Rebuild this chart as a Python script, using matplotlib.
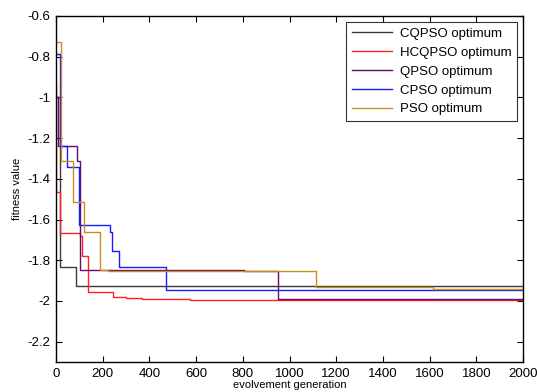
import matplotlib
matplotlib.use("Agg")
import matplotlib.pyplot as plt

plt.rcParams['font.family'] = ['Liberation Sans', 'DejaVu Sans']

series_names = ["CQPSO optimum", "HCQPSO optimum", "QPSO optimum", "CPSO optimum", "PSO optimum"]

cqpso_gen = [0, 15, 86, 2000]
cqpso_val = [-1.00, -1.835, -1.925, -1.925]

hcqpso_gen = [0, 2, 17, 103, 111, 137, 244, 300, 367, 574, 2000]
hcqpso_val = [-0.93, -1.465, -1.667, -1.68, -1.78, -1.955, -1.983, -1.986, -1.99, -1.994, -1.994]

qpso_gen = [0, 8, 90, 103, 805, 950, 2000]
qpso_val = [-1.0, -1.24, -1.31, -1.85, -1.855, -1.99, -1.99]

cpso_gen = [0, 17, 46, 98, 231, 241, 271, 471, 2000]
cpso_val = [-0.785, -1.24, -1.342, -1.626, -1.66, -1.756, -1.835, -1.945, -1.945]

pso_gen = [0, 21, 74, 121, 188, 224, 1113, 1615, 2000]
pso_val = [-0.73, -1.31, -1.514, -1.662, -1.846, -1.853, -1.93, -1.94, -1.94]

x_ticks = [0, 200, 400, 600, 800, 1000, 1200, 1400, 1600, 1800, 2000]
y_ticks = [-2.2, -2.0, -1.8, -1.6, -1.4, -1.2, -1.0, -0.8, -0.6]

colors = ["#3a3a3a", "#ff2020", "#6a0a6a", "#1a1aff", "#c8901a"]

fig = plt.figure(figsize=(5.37, 3.92), dpi=100)
ax = fig.add_axes([0.1043, 0.0765, 0.8697, 0.8827])

data = [(cqpso_gen, cqpso_val), (hcqpso_gen, hcqpso_val), (qpso_gen, qpso_val),
        (cpso_gen, cpso_val), (pso_gen, pso_val)]
for (g, v), name, c in zip(data, series_names, colors):
    ax.step(g, v, where='post', color=c, lw=1.0, label=name)

ax.set_xlim(0, 2000)
ax.set_ylim(-2.3, -0.6)
ax.set_xticks(x_ticks)
ax.set_yticks(y_ticks)
ax.set_yticklabels([("%g" % t) for t in y_ticks])
ax.tick_params(direction='in', top=True, right=True, labelsize=9.5, length=4, width=0.8, pad=4)
for s in ax.spines.values():
    s.set_linewidth(1.0)
    s.set_color('black')

ax.set_xlabel("evolvement generation", fontsize=8, labelpad=0.5)
ax.set_ylabel("fitness value", fontsize=8, labelpad=4)

leg = ax.legend(loc='upper right', fontsize=9.5, frameon=True, fancybox=False,
                edgecolor='black', handlelength=3.0, borderaxespad=0.45,
                labelspacing=0.5, handletextpad=0.6, borderpad=0.45)
leg.get_frame().set_linewidth(0.8)

fig.savefig("out.png", dpi=100)
